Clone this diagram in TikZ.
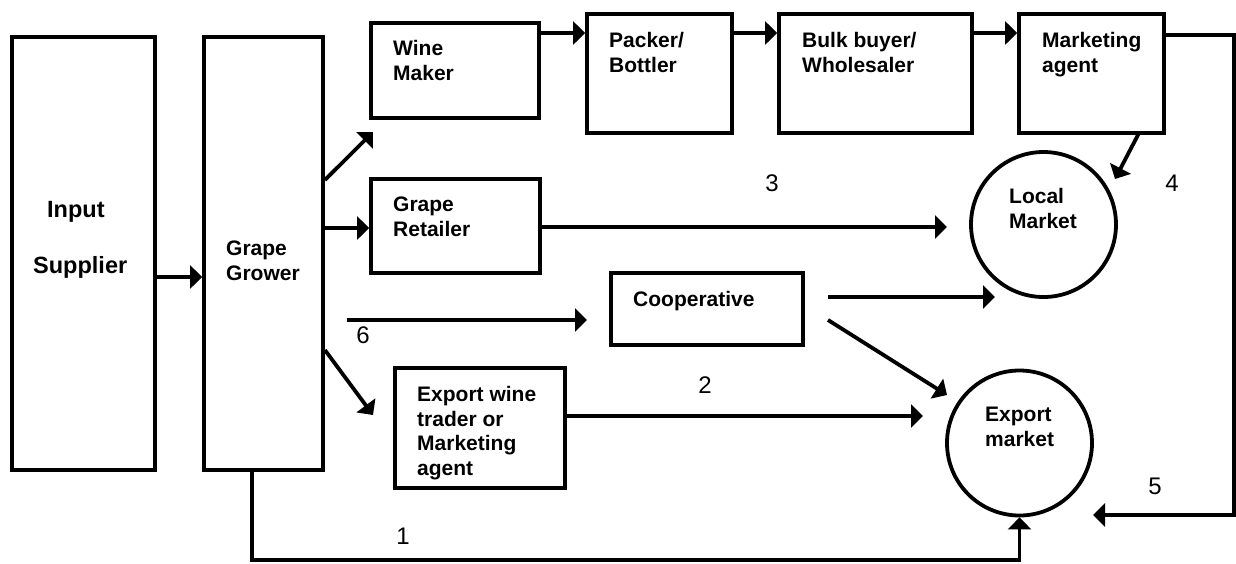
\documentclass[tikz,border=0pt]{standalone}
\usepackage{fontspec}
\setmainfont{Liberation Sans}
\usetikzlibrary{arrows.meta}
\tikzset{
  box/.style={draw, line width=3.8pt, rectangle, inner sep=0pt},
  ring/.style={draw, line width=3.8pt, circle, inner sep=0pt, minimum size=145pt},
  txt/.style={font=\fontsize{21}{24.6}\selectfont\bfseries, align=left, anchor=north west, inner sep=0pt},
  bigtxt/.style={font=\fontsize{23.5}{28}\selectfont\bfseries, anchor=west, inner sep=0pt},
  num/.style={font=\fontsize{24}{28}\selectfont, inner sep=0pt},
  arr/.style={line width=3.8pt, -{Triangle[length=12pt,width=23pt]}},
  ln/.style={line width=3.8pt}
}
\begin{document}
\begin{tikzpicture}[x=1pt,y=-1pt]
\useasboundingbox (0,0) rectangle (1236,563);
% boxes
\node[box, minimum width=143pt, minimum height=433pt] (is) at (83.5,253.5) {};
\node[box, minimum width=119pt, minimum height=433pt] (gg) at (263.5,253.5) {};
\node[box, minimum width=168pt, minimum height=95pt] (wm) at (455,70.5) {};
\node[box, minimum width=145pt, minimum height=119pt] (pb) at (659.5,73.5) {};
\node[box, minimum width=193pt, minimum height=119pt] (bb) at (875.5,73.5) {};
\node[box, minimum width=145pt, minimum height=119pt] (ma) at (1091.5,73.5) {};
\node[box, minimum width=169pt, minimum height=94pt] (gr) at (455.5,226) {};
\node[box, minimum width=192pt, minimum height=72pt] (co) at (707,309) {};
\node[box, minimum width=170pt, minimum height=120pt] (ex) at (480,428) {};
\node[ring] (lm) at (1043.5,224.5) {};
\node[ring] (em) at (1019.5,443) {};
% texts
\node[bigtxt] (ist1) at (47,212) {Input};
\node[bigtxt] (ist2) at (33,267) {Supplier};
\node[txt] (ggt) at (226,241) {Grape\\Grower};
\node[txt] (wmt) at (393,40) {Wine\\Maker};
\node[txt] (pbt) at (609,32) {Packer/\\Bottler};
\node[txt] (bbt) at (802,32) {Bulk buyer/\\Wholesaler};
\node[txt] (mat) at (1042,32) {Marketing\\agent};
\node[txt] (grt) at (393,197) {Grape\\Retailer};
\node[txt] (cot) at (633,291) {Cooperative};
\node[txt] (ext) at (417,386) {Export wine\\trader or\\Marketing\\agent};
\node[txt] (lmt) at (1009,188) {Local\\Market};
\node[txt] (emt) at (985,407) {Export\\market};
% numbers
\node[num] (n1) at (403,536) {1};
\node[num] (n2) at (705,385) {2};
\node[num] (n3) at (772,183) {3};
\node[num] (n4) at (1172,183) {4};
\node[num] (n5) at (1155,486) {5};
\node[num] (n6) at (363,335) {6};
% free ends
\coordinate (wmin) at (373,132);
\coordinate (exin) at (373,415);
\coordinate (lmin3) at (947,227);
\coordinate (six0) at (347,320);
\coordinate (six1) at (587,320);
\coordinate (colm0) at (828,297);
\coordinate (colm1) at (995,297);
\coordinate (coem0) at (828,320);
\coordinate (coem1) at (947,395);
\coordinate (emin2) at (923,416);
\coordinate (maout) at (1139,133);
\coordinate (lmin4) at (1115,179);
\coordinate (r1) at (1234,35);
\coordinate (r2) at (1234,515);
\coordinate (emin5) at (1093,515);
\coordinate (b1) at (252,560);
\coordinate (b2) at (1019.5,560);
% connectors
\draw[arr] (is.east |- 0,277) -- (gg.west |- 0,277);
\draw[arr] (gg.east |- 0,180) -- (wmin);
\draw[arr] (gg.east |- 0,228) -- (gr.west |- 0,228);
\draw[arr] (gg.east |- 0,350) -- (exin);
\draw[arr] (wm.east |- 0,33) -- (pb.west |- 0,33);
\draw[arr] (pb.east |- 0,33) -- (bb.west |- 0,33);
\draw[arr] (bb.east |- 0,33) -- (ma.west |- 0,33);
\draw[arr] (ma.east |- r1) -- (r1) -- (r2) -- (emin5);
\draw[arr] (maout) -- (lmin4);
\draw[arr] (gr.east |- lmin3) -- (lmin3);
\draw[arr] (six0) -- (six1);
\draw[arr] (colm0) -- (colm1);
\draw[arr] (coem0) -- (coem1);
\draw[arr] (ex.east |- emin2) -- (emin2);
\draw[arr] (gg.south -| b1) -- (b1) -- (b2) -- (em.south);
\end{tikzpicture}
\end{document}
